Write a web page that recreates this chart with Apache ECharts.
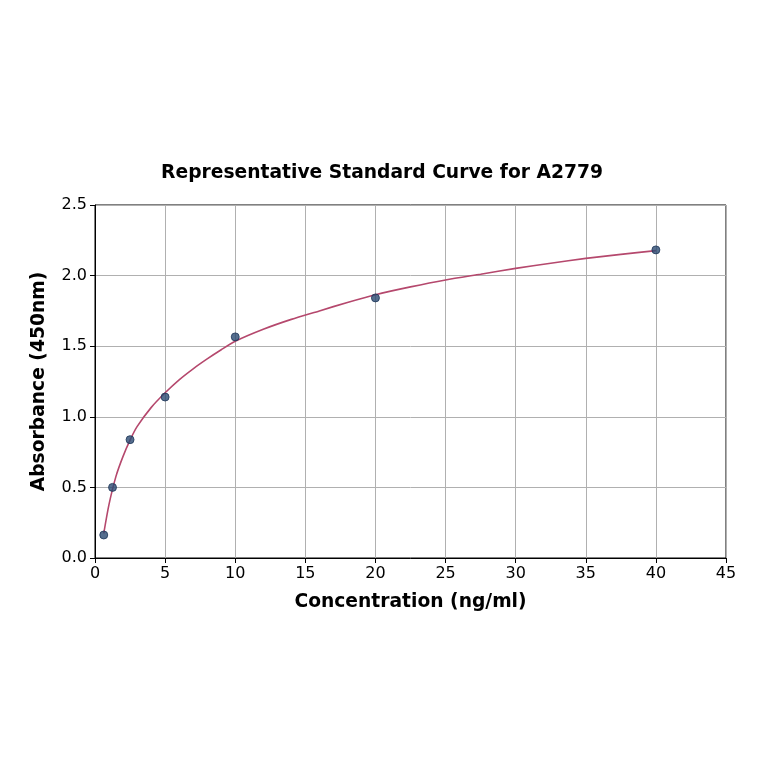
<!DOCTYPE html>
<html>
<head>
<meta charset="utf-8">
<script src="https://cdn.jsdelivr.net/npm/echarts@6/dist/echarts.min.js"></script>
<style>html,body{margin:0;padding:0;background:#fff}#c{width:764px;height:764px}</style>
</head>
<body>
<div id="c"></div>
<script>
const titleText = 'Representative Standard Curve for A2779';
const xAxisName = 'Concentration (ng/ml)';
const yAxisName = 'Absorbance (450nm)';
const pointX = [0.625, 1.25, 2.5, 5, 10, 20, 40];
const pointY = [0.163, 0.50, 0.838, 1.140, 1.566, 1.842, 2.182];
const curveX = [0.625, 1.0, 1.5, 2.0, 2.5, 3.0, 4, 5, 6, 7, 8, 9, 10, 12, 14, 16, 18, 20, 22.5, 25, 27.5, 30, 32.5, 35, 37.5, 40];
const curveY = [0.175, 0.38, 0.58, 0.72, 0.835, 0.93, 1.065, 1.17, 1.262, 1.34, 1.41, 1.475, 1.535, 1.62, 1.69, 1.75, 1.81, 1.865, 1.92, 1.969, 2.01, 2.051, 2.088, 2.122, 2.15, 2.177];
const xTicks = {min: 0, max: 45, interval: 5};
const yTicks = {min: 0, max: 2.5, interval: 0.5};

const font = 'DejaVu Sans';
const chart = echarts.init(document.getElementById('c'));
chart.setOption({
  animation: false,
  title: {
    text: titleText, left: 'center', top: 159,
    textStyle: {fontFamily: font, fontSize: 18.7, fontWeight: 'bold', color: '#000'}
  },
  grid: {left: 95, right: 38, top: 205, bottom: 206, show: true, borderColor: '#000', borderWidth: 1},
  xAxis: {
    type: 'value', min: xTicks.min, max: xTicks.max, interval: xTicks.interval,
    name: xAxisName, nameLocation: 'middle', nameGap: 35,
    nameTextStyle: {fontFamily: font, fontSize: 18.7, fontWeight: 'bold', color: '#000'},
    axisLine: {lineStyle: {color: '#000'}},
    axisTick: {show: true, length: 5, lineStyle: {color: '#000'}},
    axisLabel: {fontFamily: font, fontSize: 16, color: '#000', margin: 8},
    splitLine: {show: true, lineStyle: {color: '#b0b0b0', width: 1}}
  },
  yAxis: {
    type: 'value', min: yTicks.min, max: yTicks.max, interval: yTicks.interval,
    name: yAxisName, nameLocation: 'middle', nameGap: 46,
    nameTextStyle: {fontFamily: font, fontSize: 18.7, fontWeight: 'bold', color: '#000'},
    axisLine: {show: true, lineStyle: {color: '#000'}},
    axisTick: {show: true, length: 5, lineStyle: {color: '#000'}},
    axisLabel: {fontFamily: font, fontSize: 16, color: '#000', margin: 8, formatter: v => v.toFixed(1)},
    splitLine: {show: true, lineStyle: {color: '#b0b0b0', width: 1}}
  },
  series: [
    {
      type: 'line', smooth: 0.25, showSymbol: false, symbol: 'none',
      data: curveX.map((x, i) => [x, curveY[i]]),
      lineStyle: {color: '#b5486d', width: 1.6}, z: 2
    },
    {
      type: 'scatter', symbol: 'circle', symbolSize: 8,
      data: pointX.map((x, i) => [x, pointY[i]]),
      itemStyle: {color: '#2a4a72', borderColor: '#1d3556', borderWidth: 1}, z: 3
    }
  ]
});
</script>
</body>
</html>
